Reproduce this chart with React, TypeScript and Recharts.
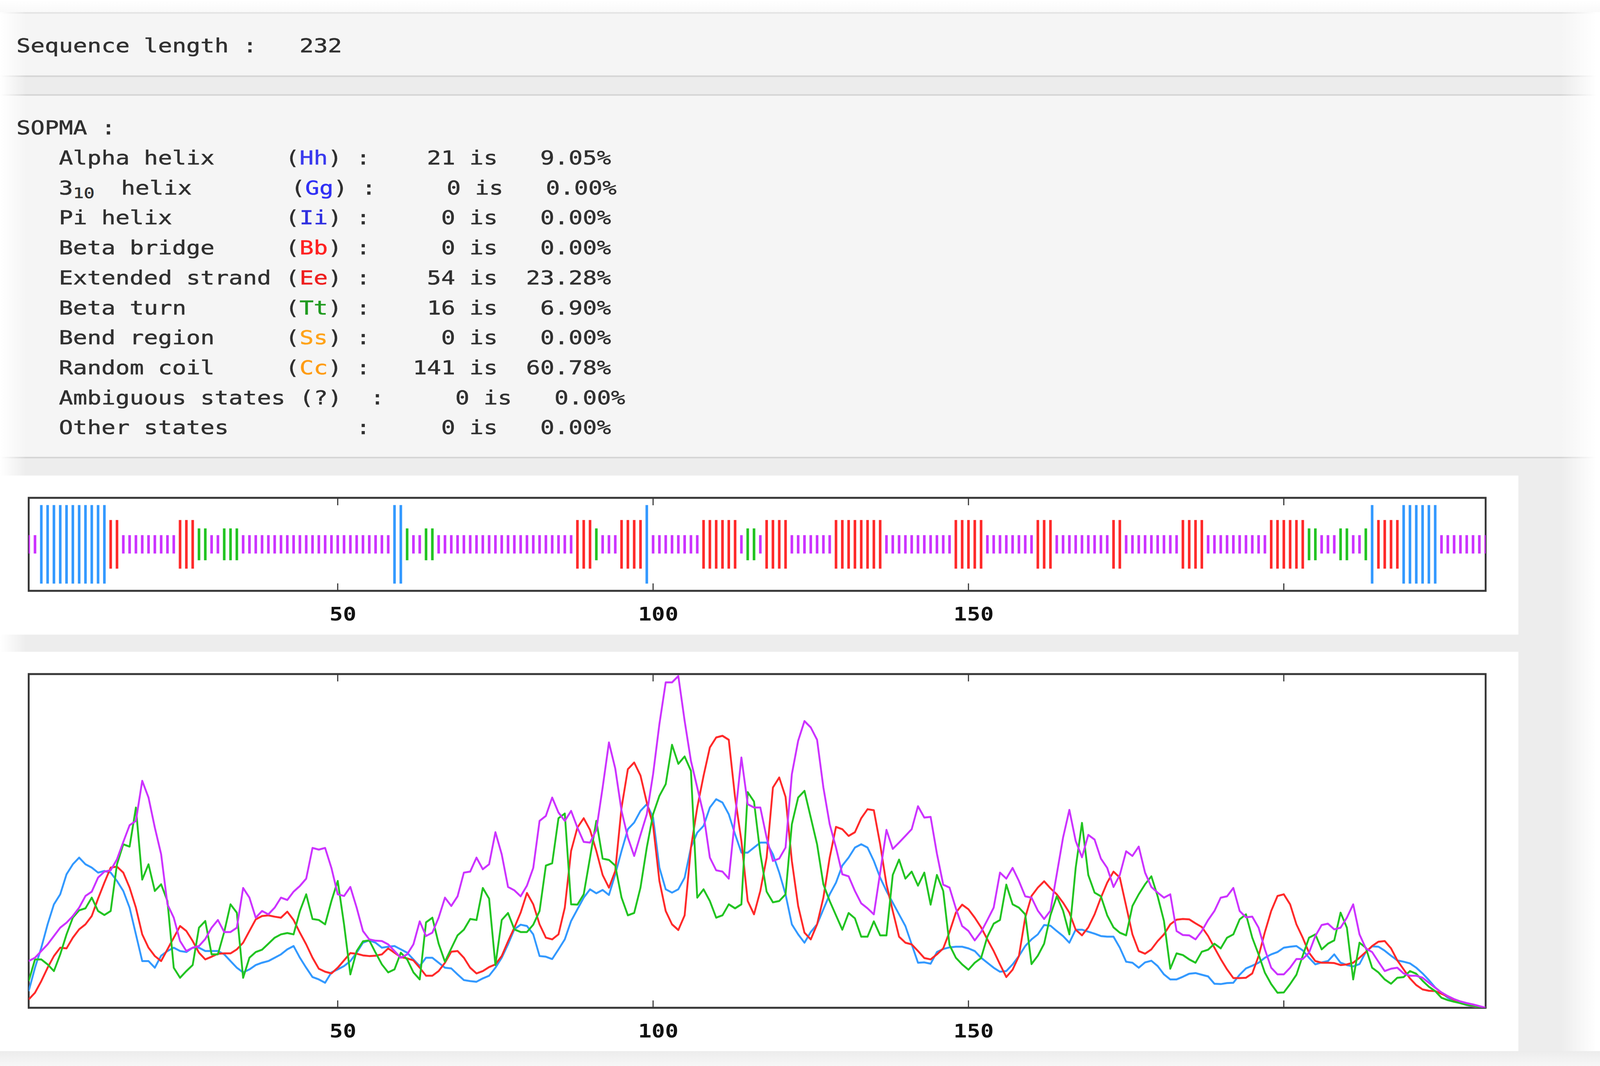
import React from "react";
import { ComposedChart, Bar, Line, XAxis, YAxis, ReferenceLine, ReferenceArea, Cell } from "recharts";

// ---------------- DATA ----------------
const SEQ_LENGTH = 232;
const POSITIONS: number[] = Array.from({ length: SEQ_LENGTH }, (_, i) => i + 1);

// predicted state per residue, as runs [state, run length]
const STATE_RUNS: [string, number][] = [
  ["c", 2], ["h", 11], ["e", 2], ["c", 9], ["e", 3], ["t", 2], ["c", 2], ["t", 3], ["c", 24],
  ["h", 2], ["t", 1], ["c", 2], ["t", 2], ["c", 22], ["e", 3], ["t", 1], ["c", 3], ["e", 4],
  ["h", 1], ["c", 8], ["e", 6], ["c", 1], ["t", 2], ["c", 1], ["e", 4], ["c", 7], ["e", 8],
  ["c", 11], ["e", 5], ["c", 8], ["e", 3], ["c", 9], ["e", 2], ["c", 9], ["e", 4], ["c", 10],
  ["e", 6], ["t", 2], ["c", 3], ["t", 2], ["c", 2], ["t", 1], ["h", 1], ["e", 4], ["h", 6], ["c", 8],
];

// score curves (percent of plot height)
const PROB_H: number[] = [
  5, 12, 18, 25, 31, 34, 40, 43, 45, 43,
  42, 40.5, 41, 40.5, 38, 35, 30, 22, 14, 14,
  12, 15.6, 17, 18, 17, 16.7, 18, 18, 17, 17,
  17, 16, 14, 12, 10.6, 11.5, 12.8, 13.5, 14, 15,
  16, 17.5, 18.5, 15, 12, 9.2, 8.5, 7.5, 10.6, 11.5,
  12.5, 14, 16.5, 19.5, 20.2, 19.5, 18, 18.3, 18.5, 17.5,
  16.5, 14.5, 12.5, 15, 15, 13.5, 12, 11.8, 10, 8.3,
  8, 7.8, 8.8, 9.6, 12, 15, 19, 23.5, 24.9, 24.5,
  22, 15.5, 15.3, 14.6, 17.5, 20.5, 26, 29.5, 33, 35.5,
  34.3, 35.3, 33.8, 40, 47, 53.5, 55.5, 59, 61, 57,
  42, 35.5, 34.5, 35.5, 39, 48, 52.5, 54.5, 60, 62.5,
  61.5, 58, 52, 46.5, 46.5, 48, 49.5, 49.5, 46, 40.5,
  34, 25, 22, 19.5, 22.7, 25, 29.5, 34, 37.5, 42.6,
  45, 48, 49, 48, 44, 39, 35, 31.5, 28, 24.5,
  19, 13.5, 13.6, 13.2, 16.7, 17.6, 18.1, 18.3, 18.3, 17.8,
  17, 15, 13.5, 12, 10.8, 11, 13, 15.5, 18.5, 20.5,
  22, 24.8, 24.6, 23, 21.5, 19.5, 23.4, 23.4, 22.8, 22.2,
  21.5, 21.3, 21.3, 18, 13.8, 13.5, 12, 13.6, 14.1, 12.5,
  10, 8.5, 8.5, 9.3, 10.2, 10.4, 9.9, 9.4, 7.2, 7.1,
  7.4, 7.5, 9.9, 11.8, 12.6, 13.5, 15, 16, 16.7, 18,
  18.3, 18.5, 17.2, 15, 13, 13.6, 14, 16, 13.5, 12.8,
  12.4, 13.1, 16.7, 18.4, 18.3, 17.1, 15.6, 14.2, 13.8, 13.3,
  12, 10.3, 8.3, 6.1, 4.5, 3, 2, 1.4, 0.8, 0.4,
  0.15, 0,
];

const PROB_E: number[] = [
  2.5, 4.5, 8, 12, 15.5, 18, 17.8, 21, 23.5, 25,
  27.5, 32.7, 37.5, 42, 42.3, 40.5, 36, 30, 22, 18,
  15.5, 14, 17.5, 21, 24.5, 23, 20, 16.5, 14.5, 15.3,
  16.2, 16.3, 16.3, 17.5, 19.5, 23, 26.5, 27.5, 27.7, 27.3,
  27, 28.8, 26.3, 22.5, 19, 15, 11.7, 10.8, 10.3, 12,
  14.2, 16.4, 16.2, 15.7, 15.5, 15.6, 16, 17.8, 16.5, 15.2,
  14.8, 14.2, 12, 9.6, 9.6, 11, 13.5, 16.8, 17, 15,
  12, 10.3, 11, 12.2, 13, 15.5, 19.9, 24, 28.5, 34.4,
  31, 25, 21, 20.5, 22, 30, 47, 54, 56.8, 53.3,
  47, 39.8, 36, 41, 60, 71.5, 73.5, 69.6, 61.5, 54.7,
  38, 29, 25, 23.3, 27.7, 48, 60, 69.5, 78, 81,
  81.5, 80.3, 63, 50, 32, 28, 35, 45, 66, 69,
  63.2, 44, 30.5, 22.5, 20.5, 25, 33, 45, 54.2, 53.5,
  51.5, 52.6, 56.8, 59.5, 59.2, 49, 37, 29, 21.3, 19.5,
  19, 17, 14.9, 14.5, 16, 17.8, 22.7, 28.5, 30.9, 29.5,
  27, 24.1, 20.5, 17, 13, 9.2, 11.4, 15.5, 27, 33.5,
  36, 37.9, 35.8, 34, 31.5, 28.5, 23.4, 21.7, 24.1, 28,
  33, 37.5, 40.8, 39, 30.5, 22, 17, 16.2, 17.5, 20,
  22, 25, 26.4, 26.6, 26.5, 25.3, 24.2, 21.5, 18, 14.6,
  11.5, 8.9, 8.9, 9, 10.3, 15.5, 22.7, 29, 33.5, 34,
  31, 25, 21, 16.5, 14, 13.5, 13.5, 13.4, 12.8, 13,
  13.5, 15, 16.7, 18.5, 19.8, 20, 17.8, 14.2, 11.5, 8.8,
  6.8, 5.5, 5.1, 5, 4.2, 3.4, 2.4, 1.4, 0.9, 0.5,
  0.2, 0,
];

const PROB_T: number[] = [
  8, 14.5, 14.5, 13, 11, 16, 22, 27, 29.2, 29.8,
  33, 29, 27.8, 29, 43, 49, 48.3, 60, 38.4, 43,
  35, 37, 32, 12, 9, 11, 12.8, 24, 26, 16,
  16, 22.7, 31, 28.5, 9, 15, 16.7, 17.4, 19.2, 21,
  22, 22.4, 22, 29, 34, 26.6, 26.3, 25, 32, 38,
  25, 10, 17, 19.9, 20.2, 16.5, 13, 10.6, 11.5, 16.5,
  14.5, 10.6, 8.5, 25.6, 27, 19.2, 13.8, 17.8, 21.7, 23.4,
  26.6, 26.3, 35.9, 32.7, 12.8, 26.3, 28.4, 23.5, 22.7, 22.7,
  24.9, 29, 42.6, 43.3, 56.8, 58.2, 31, 30.9, 34, 45,
  56, 44.7, 44.3, 42.6, 33, 27.7, 28.4, 36, 48, 58,
  63.5, 67, 78.8, 73.1, 75.3, 71, 33, 35.5, 32, 27,
  27.7, 31, 29.8, 31, 64.6, 61.8, 46.2, 34.8, 31.6, 32,
  34, 55, 63, 65, 57, 49, 37, 32, 27.7, 23.4,
  28.4, 26.8, 21.3, 21.3, 25.9, 21.7, 21.7, 39.8, 44.4, 38.7,
  40.8, 36.6, 40.5, 30.9, 39.8, 35, 18.8, 15, 13, 11.4,
  13.5, 14.9, 21.3, 25.2, 26.3, 36.9, 31, 30, 28, 13.1,
  15.6, 19.2, 27.7, 33.4, 29.1, 22, 41.9, 55.4, 39.8, 34.5,
  33.4, 27.7, 24.1, 22.5, 21.7, 30.5, 34, 37, 39.4, 33.4,
  26, 11.7, 16.3, 15.8, 14.5, 13.5, 16.8, 17.4, 19.2, 17.8,
  21, 22, 26.5, 28, 21, 16, 10.5, 7.1, 4.5, 4.6,
  7.1, 9.9, 15.6, 21, 22, 17.5, 19.2, 20.2, 28.5, 24,
  8.5, 19.5, 18, 12, 10.6, 8.5, 7.2, 9, 9.2, 11,
  10.2, 8.1, 6.3, 5, 3, 2.3, 1.8, 1.4, 0.9, 0.6,
  0.2, 0,
];

const PROB_C: number[] = [
  14, 15, 17, 19, 21.5, 24, 25.5, 27.5, 30, 33.5,
  34.8, 39, 40.8, 41.2, 44.5, 49.7, 54.7, 56, 68, 63,
  54, 46, 31, 27, 20, 17, 18, 18.5, 20.6, 24,
  26.3, 22.7, 22.7, 24, 35.9, 33, 27, 29, 28, 30,
  33, 32.3, 34.8, 36.5, 38.7, 47.9, 47.4, 47.9, 41.9, 34,
  33.5, 36.2, 30, 23, 20.5, 20.1, 20, 19, 17, 15,
  16, 19, 25.9, 21.5, 22.5, 27, 33, 30.5, 33.4, 40.5,
  40.8, 45, 41.5, 43, 52.6, 46, 36.2, 35.2, 33.4, 36.6,
  41.9, 56, 57.5, 63, 58.5, 56, 59, 54, 49.7, 49.5,
  53.3, 66, 79.5, 71.7, 59, 51, 45.5, 51.8, 58, 70,
  85, 97.5, 97.5, 99.4, 86, 74, 66, 58, 45, 41.2,
  40.8, 38.7, 57, 75, 61, 60, 60, 51, 44, 44.7,
  48, 70, 80, 85.9, 84, 80.3, 66, 55, 48, 40,
  39.4, 35, 31.3, 29.8, 28, 40.5, 53.3, 47.6, 49.5, 51.5,
  53.5, 60.4, 57, 57.2, 46.2, 36.9, 36, 29.8, 24.5, 23,
  20.2, 22.7, 26.3, 30, 40.5, 38.7, 41.9, 38, 33.4, 33,
  29.1, 26.6, 29.1, 40, 51, 59.3, 50, 45.1, 51.8, 50.4,
  44.7, 41.9, 36.2, 39.8, 46.9, 45.5, 48.3, 40.5, 36.2, 34.5,
  33, 34, 23, 21.8, 21.7, 20.5, 23, 26.3, 29, 33,
  33.4, 35.9, 29, 27.1, 27.3, 24, 17.5, 12, 10, 10,
  12, 14.6, 14.6, 16.5, 21.5, 24.8, 25.2, 23.5, 24, 27,
  31, 22, 17.8, 16.7, 13.8, 11, 11.7, 12, 10.3, 9.6,
  9.6, 9, 7.5, 6, 4.6, 3.5, 2.6, 1.9, 1.4, 1,
  0.5, 0,
];

const TICK_MARKS: number[] = [50, 100, 150, 200];
const TICK_LABELS: number[] = [50, 100, 150];

// SOPMA summary table
const ROW_NAMES: string[] = ["Alpha helix", "3_10 helix", "Pi helix", "Beta bridge", "Extended strand", "Beta turn", "Bend region", "Random coil"];
const ROW_CODES: string[] = ["Hh", "Gg", "Ii", "Bb", "Ee", "Tt", "Ss", "Cc"];
const ROW_COUNTS: number[] = [21, 0, 0, 0, 54, 16, 0, 141];
const ROW_PCTS: string[] = ["9.05%", "0.00%", "0.00%", "0.00%", "23.28%", "6.90%", "0.00%", "60.78%"];

// ---------------- STYLE ----------------
const DESIGN_W = 4295;
const DESIGN_H = 2728;

const C_BLUE = "#3399ff";
const C_RED = "#ff2a2a";
const C_GREEN = "#22c422";
const C_PURPLE = "#cc33ff";
const BORDER = "#363636";

const STATE_COLOR: Record<string, string> = { h: C_BLUE, e: C_RED, t: C_GREEN, c: C_PURPLE };
const STATE_HALF: Record<string, number> = { h: 0.845, e: 0.523, t: 0.343, c: 0.197 };

const CODE_COLORS: string[] = ["#3a3aee", "#2f2ff5", "#2f2fe0", "#ff2222", "#ee1f1f", "#1f9a1f", "#ffa31a", "#ff9c14"];

const STATES: string[] = STATE_RUNS.flatMap(([s, n]) => Array(n).fill(s));
const SEQ_DATA = POSITIONS.map((p, i) => ({
  pos: p,
  state: STATES[i],
  range: [-STATE_HALF[STATES[i]], STATE_HALF[STATES[i]]],
}));
const LINE_DATA = POSITIONS.map((p, i) => ({ pos: p, H: PROB_H[i], E: PROB_E[i], T: PROB_T[i], C: PROB_C[i] }));

const MONO = "'DejaVu Sans Mono', monospace";
const FS = 50;
const ADV = FS * 0.602;
const SX = 38 / ADV;
const LH = 76.7;
const BASE_OFF = (LH - 1.164 * FS) / 2 + 0.928 * FS;

const TextLine = ({ baseline, children }: { baseline: number; children: React.ReactNode }) => (
  <div
    style={{
      position: "absolute",
      left: 44,
      top: baseline - BASE_OFF,
      fontFamily: MONO,
      fontSize: FS,
      lineHeight: LH + "px",
      whiteSpace: "pre",
      color: "#303030",
      WebkitTextStroke: "0.7px",
      transform: `scaleX(${SX})`,
      transformOrigin: "0 0",
    }}
  >
    {children}
  </div>
);

const PosTick = (props: any) => {
  const { x, y, payload } = props;
  if (!TICK_LABELS.includes(payload.value)) return <g />;
  const s = String(payload.value);
  return (
    <text
      x={x + 14}
      y={y + 76}
      textAnchor="middle"
      fontFamily="'DejaVu Sans Mono', monospace"
      fontWeight="bold"
      fontSize={48}
      fill="#111111"
      textLength={s.length * 36}
      lengthAdjust="spacingAndGlyphs"
    >
      {s}
    </text>
  );
};

const fadeX = (c: string) =>
  `linear-gradient(to right, #ffffff 0px, ${c} 70px, ${c} 4190px, #ffffff 4285px)`;

const Band = ({ top, height, color }: { top: number; height: number; color: string }) => (
  <div style={{ position: "absolute", left: 0, top, width: DESIGN_W, height, background: fadeX(color) }} />
);

function viewSize(): [number, number] {
  if (typeof window === "undefined") return [DESIGN_W, DESIGN_H];
  const w = document.documentElement.clientWidth || window.innerWidth || DESIGN_W;
  const h = document.documentElement.clientHeight || window.innerHeight || DESIGN_H;
  return [w, h];
}

export default function App() {
  const [vw, vh] = viewSize();
  const sx = vw / DESIGN_W;
  const sy = vh / DESIGN_H;
  const rowBase = (k: number) => 345 + LH * (k + 1);
  return (
    <div style={{ position: "absolute", left: 0, top: 0, width: vw, height: vh, overflow: "hidden" }}>
      <div
        style={{
          position: "absolute",
          left: 0,
          top: 0,
          width: DESIGN_W,
          height: DESIGN_H,
          overflow: "hidden",
          background: "#ffffff",
          transform: `scale(${sx}, ${sy})`,
          transformOrigin: "0 0",
        }}
      >
        {/* page backgrounds */}
        <div style={{ position: "absolute", left: 0, top: 0, width: DESIGN_W, height: 32, background: "linear-gradient(to bottom, #ffffff, #f9f9f9)" }} />
        <Band top={31} height={4} color="#e4e4e4" />
        <Band top={35} height={158} color="#f5f5f5" />
        <Band top={193} height={4} color="#d6d6d6" />
        <Band top={197} height={44} color="#ececec" />
        <Band top={241} height={4} color="#d6d6d6" />
        <Band top={245} height={924} color="#f5f5f5" />
        <Band top={1169} height={4} color="#d6d6d6" />
        <Band top={1173} height={1517} color="#ededed" />
        <div style={{ position: "absolute", left: 0, top: 2690, width: DESIGN_W, height: 38, background: "linear-gradient(to bottom, #ececec, #f7f7f7)" }} />
        <div style={{ position: "absolute", left: 0, top: 1217, width: 4076, height: 407, background: "#ffffff" }} />
        <div style={{ position: "absolute", left: 0, top: 1668, width: 4076, height: 1022, background: "#ffffff" }} />

        {/* text */}
        <TextLine baseline={135}>{"Sequence length :   " + SEQ_LENGTH}</TextLine>
        <TextLine baseline={345}>{"SOPMA :"}</TextLine>
        {ROW_NAMES.map((name, k) => (
          <TextLine key={name} baseline={rowBase(k)}>
            {name === "3_10 helix" ? (
              <>
                {"   3"}
                <span style={{ display: "inline-block", width: 42 }}>
                  <span style={{ position: "relative", top: 9, fontSize: 38 }}>10</span>
                </span>
                {"  helix       "}
              </>
            ) : (
              "   " + name.padEnd(16)
            )}
            {"("}
            <span style={{ color: CODE_COLORS[k] }}>{ROW_CODES[k]}</span>
            {") :" + String(ROW_COUNTS[k]).padStart(6) + " is" + ROW_PCTS[k].padStart(8)}
          </TextLine>
        ))}
        <TextLine baseline={rowBase(8)}>{"   Ambiguous states (?)  :" + "0".padStart(6) + " is" + "0.00%".padStart(8)}</TextLine>
        <TextLine baseline={rowBase(9)}>{"   Other states         :" + "0".padStart(6) + " is" + "0.00%".padStart(8)}</TextLine>

        {/* secondary structure map */}
        <div style={{ position: "absolute", left: 0, top: 1217 }}>
          <ComposedChart width={4076} height={407} data={SEQ_DATA} margin={{ top: 57, right: 88, bottom: 52, left: 77 }}>
            <XAxis
              dataKey="pos"
              type="number"
              domain={[1, SEQ_LENGTH]}
              ticks={TICK_MARKS}
              interval={0}
              allowDataOverflow
              axisLine={false}
              tickLine={false}
              tickSize={0}
              tickMargin={0}
              height={60}
              tick={PosTick}
            />
            <YAxis hide type="number" domain={[-1, 1]} allowDataOverflow />
            <Bar dataKey="range" barSize={7} isAnimationActive={false}>
              {SEQ_DATA.map((d, i) => (
                <Cell key={i} fill={STATE_COLOR[d.state]} />
              ))}
            </Bar>
            {TICK_MARKS.map((t) => (
              <ReferenceLine key={"t" + t} segment={[{ x: t, y: 1 }, { x: t, y: 0.84 }]} stroke={BORDER} strokeWidth={3} />
            ))}
            {TICK_MARKS.map((t) => (
              <ReferenceLine key={"b" + t} segment={[{ x: t, y: -1 }, { x: t, y: -0.84 }]} stroke={BORDER} strokeWidth={3} />
            ))}
            <ReferenceArea x1={1} x2={SEQ_LENGTH} y1={-1} y2={1} fill="none" stroke={BORDER} strokeWidth={5} ifOverflow="visible" />
          </ComposedChart>
        </div>

        {/* score curves */}
        <div style={{ position: "absolute", left: 0, top: 1668 }}>
          <ComposedChart width={4076} height={1022} data={LINE_DATA} margin={{ top: 57, right: 88, bottom: 51, left: 77 }}>
            <XAxis
              dataKey="pos"
              type="number"
              domain={[1, SEQ_LENGTH]}
              ticks={TICK_MARKS}
              interval={0}
              allowDataOverflow
              axisLine={false}
              tickLine={false}
              tickSize={0}
              tickMargin={0}
              height={60}
              tick={PosTick}
            />
            <YAxis hide type="number" domain={[0, 100]} allowDataOverflow />
            <Line dataKey="H" type="linear" stroke={C_BLUE} strokeWidth={5} dot={false} activeDot={false} strokeLinejoin="round" isAnimationActive={false} />
            <Line dataKey="E" type="linear" stroke={C_RED} strokeWidth={5} dot={false} activeDot={false} strokeLinejoin="round" isAnimationActive={false} />
            <Line dataKey="T" type="linear" stroke={C_GREEN} strokeWidth={5} dot={false} activeDot={false} strokeLinejoin="round" isAnimationActive={false} />
            <Line dataKey="C" type="linear" stroke={C_PURPLE} strokeWidth={5} dot={false} activeDot={false} strokeLinejoin="round" isAnimationActive={false} />
            {TICK_MARKS.map((t) => (
              <ReferenceLine key={"t" + t} segment={[{ x: t, y: 100 }, { x: t, y: 97.8 }]} stroke={BORDER} strokeWidth={3} />
            ))}
            {TICK_MARKS.map((t) => (
              <ReferenceLine key={"b" + t} segment={[{ x: t, y: 0 }, { x: t, y: 2.2 }]} stroke={BORDER} strokeWidth={3} />
            ))}
            <ReferenceArea x1={1} x2={SEQ_LENGTH} y1={0} y2={100} fill="none" stroke={BORDER} strokeWidth={5} ifOverflow="visible" />
          </ComposedChart>
        </div>
      </div>
    </div>
  );
}
